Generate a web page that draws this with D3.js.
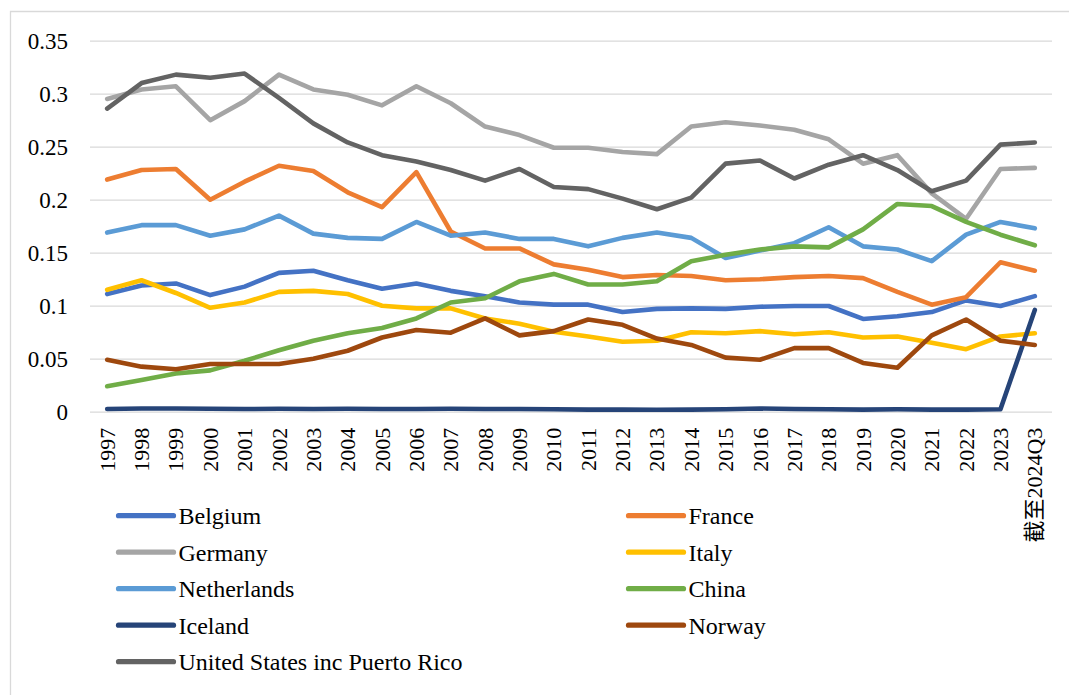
<!DOCTYPE html>
<html>
<head>
<meta charset="utf-8">
<script src="https://cdn.jsdelivr.net/npm/d3@7"></script>
<style>
  body { margin: 0; background: #fff; }
</style>
</head>
<body>
<div id="chart"></div>
<script>
var svgWidth = 1069;
var svgHeight = 695;
var fontFamily = "'Liberation Serif', Tinos, 'Times New Roman', 'DejaVu Serif', serif, 'Noto Sans CJK SC'";

// categories (x axis)
var years = ["1997", "1998", "1999", "2000", "2001", "2002", "2003", "2004", "2005", "2006",
  "2007", "2008", "2009", "2010", "2011", "2012", "2013", "2014", "2015", "2016",
  "2017", "2018", "2019", "2020", "2021", "2022", "2023", "截至2024Q3"];

var yTicks = [0, 0.05, 0.1, 0.15, 0.2, 0.25, 0.3, 0.35];

// series values
var belgium = [0.111, 0.119, 0.121, 0.110, 0.118, 0.131, 0.133, 0.124, 0.116, 0.121,
  0.114, 0.109, 0.103, 0.101, 0.101, 0.094, 0.097, 0.0975, 0.097, 0.099,
  0.0997, 0.0997, 0.0875, 0.090, 0.094, 0.105, 0.0997, 0.109];
var france = [0.219, 0.228, 0.229, 0.200, 0.217, 0.232, 0.227, 0.207, 0.193, 0.226,
  0.170, 0.154, 0.154, 0.139, 0.134, 0.127, 0.129, 0.128, 0.124, 0.125,
  0.127, 0.128, 0.126, 0.113, 0.101, 0.108, 0.141, 0.133];
var germany = [0.295, 0.304, 0.307, 0.275, 0.293, 0.318, 0.304, 0.299, 0.289, 0.307,
  0.291, 0.269, 0.261, 0.249, 0.249, 0.245, 0.243, 0.269, 0.273, 0.270,
  0.266, 0.257, 0.234, 0.242, 0.206, 0.182, 0.229, 0.230];
var italy = [0.115, 0.124, 0.112, 0.098, 0.103, 0.113, 0.114, 0.111, 0.100, 0.0975,
  0.0975, 0.088, 0.083, 0.0755, 0.071, 0.066, 0.067, 0.075, 0.074, 0.076,
  0.073, 0.075, 0.070, 0.071, 0.065, 0.059, 0.071, 0.074];
var netherlands = [0.169, 0.176, 0.176, 0.166, 0.172, 0.185, 0.168, 0.164, 0.163, 0.179,
  0.166, 0.169, 0.163, 0.163, 0.156, 0.164, 0.169, 0.164, 0.145, 0.152,
  0.159, 0.174, 0.156, 0.153, 0.142, 0.167, 0.179, 0.173];
var china = [0.024, 0.030, 0.036, 0.039, 0.048, 0.058, 0.067, 0.074, 0.079, 0.088,
  0.103, 0.107, 0.123, 0.130, 0.120, 0.120, 0.123, 0.142, 0.148, 0.153,
  0.156, 0.155, 0.172, 0.196, 0.194, 0.179, 0.167, 0.157];
var iceland = [0.0025, 0.003, 0.003, 0.0028, 0.0025, 0.0028, 0.0025, 0.0028, 0.0025, 0.0025,
  0.0028, 0.0025, 0.0025, 0.0023, 0.002, 0.002, 0.0018, 0.002, 0.0023, 0.003,
  0.0025, 0.0023, 0.002, 0.0023, 0.002, 0.002, 0.0023, 0.096];
var norway = [0.049, 0.0425, 0.040, 0.045, 0.045, 0.045, 0.050, 0.0575, 0.070, 0.077,
  0.0745, 0.088, 0.072, 0.076, 0.087, 0.082, 0.069, 0.063, 0.051, 0.049,
  0.060, 0.060, 0.046, 0.0415, 0.072, 0.087, 0.067, 0.063];
var unitedStates = [0.286, 0.310, 0.318, 0.315, 0.319, 0.296, 0.272, 0.254, 0.242, 0.236,
  0.228, 0.218, 0.229, 0.212, 0.210, 0.201, 0.191, 0.202, 0.234, 0.237,
  0.220, 0.233, 0.242, 0.228, 0.208, 0.218, 0.252, 0.254];

var seriesNames = ["Belgium", "France", "Germany", "Italy", "Netherlands", "China",
  "Iceland", "Norway", "United States inc Puerto Rico"];
var seriesColors = ["#4472c4", "#ed7d31", "#a5a5a5", "#ffc000", "#5b9bd5", "#70ad47",
  "#264478", "#9e480e", "#636363"];
var seriesValues = [belgium, france, germany, italy, netherlands, china, iceland, norway, unitedStates];

var plot = { left: 90, right: 1052, top: 40.7, bottom: 411.7 };

var svg = d3.select("#chart")
  .append("svg")
  .attr("width", svgWidth)
  .attr("height", svgHeight)
  .style("font-family", fontFamily);

// chart border (only left and top are inside the picture)
svg.append("path")
  .attr("d", "M10.5," + svgHeight + "V11.5H" + svgWidth)
  .attr("fill", "none")
  .attr("stroke", "#d9d9d9")
  .attr("stroke-width", 1.3);

var xScale = d3.scalePoint()
  .domain(years)
  .range([plot.left, plot.right])
  .padding(0.5);

var yScale = d3.scaleLinear()
  .domain([0, 0.35])
  .range([plot.bottom, plot.top]);

// y axis with gridlines
var yAxis = svg.append("g")
  .attr("transform", `translate(${plot.left},0)`)
  .call(d3.axisLeft(yScale)
    .tickValues(yTicks)
    .tickSize(-(plot.right - plot.left))
    .tickPadding(22)
    .tickFormat(d => d === 0 ? "0" : String(+d.toFixed(2))));

yAxis.attr("font-family", null);
yAxis.select(".domain").remove();
yAxis.selectAll(".tick line")
  .attr("stroke", "#d9d9d9")
  .attr("stroke-width", 1.3);
yAxis.selectAll(".tick text")
  .style("font-family", fontFamily)
  .style("font-size", "23px")
  .attr("fill", "#000");

// x axis labels, rotated
var xAxis = svg.append("g")
  .attr("transform", `translate(0,${plot.bottom})`)
  .call(d3.axisBottom(xScale).tickSize(0));

xAxis.attr("font-family", null);
xAxis.select(".domain").remove();
xAxis.selectAll(".tick text")
  .style("font-family", fontFamily)
  .style("font-size", "22px")
  .attr("fill", "#000")
  .attr("text-anchor", "end")
  .attr("transform", "rotate(-90)")
  .attr("x", -16)
  .attr("y", 0)
  .attr("dy", "0.32em");

// lines
var line = d3.line()
  .x((d, i) => xScale(years[i]))
  .y(d => yScale(d));

svg.append("g")
  .selectAll("path")
  .data(seriesValues)
  .enter()
  .append("path")
  .attr("d", d => line(d))
  .attr("fill", "none")
  .attr("stroke", (d, i) => seriesColors[i])
  .attr("stroke-width", 4.6)
  .attr("stroke-linejoin", "round")
  .attr("stroke-linecap", "round");

// legend, two columns filled row by row
var legendCols = [118.5, 628.5];
var legendTop = 515.7;
var legendStep = 36.5;

var legend = svg.append("g")
  .selectAll("g")
  .data(seriesNames)
  .enter()
  .append("g")
  .attr("transform", (d, i) =>
    `translate(${legendCols[i % 2]},${legendTop + Math.floor(i / 2) * legendStep})`);

legend.append("line")
  .attr("x1", 0)
  .attr("x2", 55)
  .attr("y1", 0)
  .attr("y2", 0)
  .attr("stroke", (d, i) => seriesColors[i])
  .attr("stroke-width", 5.2)
  .attr("stroke-linecap", "round");

legend.append("text")
  .attr("x", 60)
  .attr("y", 8.6)
  .style("font-family", fontFamily)
  .style("font-size", "24px")
  .attr("fill", "#000")
  .text(d => d);
</script>
</body>
</html>
